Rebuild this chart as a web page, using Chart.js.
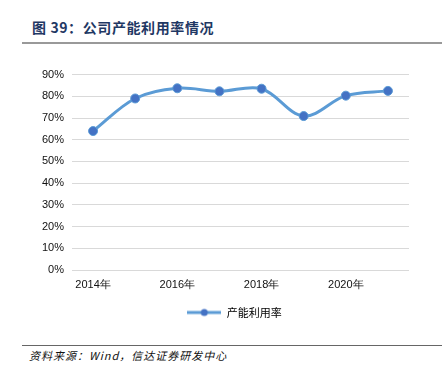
<!DOCTYPE html>
<html>
<head>
<meta charset="utf-8">
<script src="https://cdn.jsdelivr.net/npm/chart.js@4/dist/chart.umd.min.js"></script>
<style>
  html, body { margin: 0; padding: 0; background: #fff; }
  body { width: 444px; height: 377px; position: relative; overflow: hidden; font-family: "Noto Sans CJK SC", sans-serif; }
  .title { position: absolute; left: 32px; top: 17px; font-size: 14px; font-weight: bold; color: #1f3864; letter-spacing: 0.6px; }
  .rule-top { position: absolute; left: 22px; top: 42px; width: 420px; height: 2px; background: #999; }
  .rule-bottom { position: absolute; left: 22px; top: 345px; width: 420px; height: 1px; background: #666; }
  .source { position: absolute; left: 29px; top: 347px; font-size: 11px; font-style: italic; color: #111; letter-spacing: 1px; }
  #chart { position: absolute; left: 0; top: 60px; }
</style>
</head>
<body>
<div class="title">图 39：公司产能利用率情况</div>
<div class="rule-top"></div>
<canvas id="chart" width="444" height="268"></canvas>
<div class="rule-bottom"></div>
<div class="source">资料来源：Wind，信达证券研发中心</div>
<script>
const categories = ['2014年', '2015年', '2016年', '2017年', '2018年', '2019年', '2020年', '2021年'];
const utilization = [0.64, 0.79, 0.837, 0.823, 0.835, 0.709, 0.803, 0.825];
const seriesName = '产能利用率';

const lineColor = '#5b9bd5';
const markerColor = '#4472c4';

// legend marker: line with a dot in the middle
const legendIcon = document.createElement('canvas');
legendIcon.width = 34;
legendIcon.height = 10;
const ic = legendIcon.getContext('2d');
ic.strokeStyle = lineColor;
ic.lineWidth = 3;
ic.beginPath();
ic.moveTo(0, 5);
ic.lineTo(34, 5);
ic.stroke();
ic.fillStyle = markerColor;
ic.beginPath();
ic.arc(17, 5, 3.5, 0, Math.PI * 2);
ic.fill();

// push the legend a bit right, like in the original
const legendShift = {
  id: 'legendShift',
  afterLayout(chart) {
    chart.legend.left += 30;
    chart.legend.right += 30;
  }
};

const ctx = document.getElementById('chart').getContext('2d');
new Chart(ctx, {
  type: 'line',
  data: {
    labels: categories,
    datasets: [{
      label: seriesName,
      data: utilization,
      borderColor: lineColor,
      borderWidth: 3,
      tension: 0.35,
      pointRadius: 4.5,
      pointBackgroundColor: markerColor,
      pointBorderColor: lineColor,
      pointBorderWidth: 1
    }]
  },
  options: {
    responsive: false,
    animation: false,
    layout: { padding: { left: 0, right: 35, top: 10, bottom: 0 } },
    scales: {
      x: {
        offset: true,
        grid: { display: false },
        border: { display: false },
        ticks: {
          autoSkip: false,
          maxRotation: 0,
          color: '#111',
          font: { family: 'Liberation Sans, Arial', size: 11 },
          padding: 0,
          callback: (v, i) => (i % 2 === 0 ? categories[i] : '')
        },
        afterFit: s => { s.height = 27; }
      },
      y: {
        min: 0,
        max: 0.9,
        grid: { color: '#d9d9d9', lineWidth: 1, drawTicks: false },
        border: { display: false },
        ticks: {
          stepSize: 0.1,
          color: '#111',
          padding: 8,
          font: { family: 'Liberation Sans, Arial', size: 11 },
          callback: v => Math.round(v * 100) + '%'
        },
        afterFit: s => { s.width = 72; }
      }
    },
    plugins: {
      tooltip: { enabled: false },
      legend: {
        position: 'bottom',
        labels: {
          usePointStyle: true,
          pointStyleWidth: 34,
          color: '#333',
          font: { family: 'Noto Sans CJK SC', size: 11 },
          padding: 10,
          generateLabels: chart => chart.data.datasets.map((d, i) => ({
            text: d.label,
            pointStyle: legendIcon,
            fillStyle: lineColor,
            strokeStyle: lineColor,
            lineWidth: 0,
            datasetIndex: i
          }))
        }
      }
    }
  },
  plugins: [legendShift]
});
</script>
</body>
</html>
